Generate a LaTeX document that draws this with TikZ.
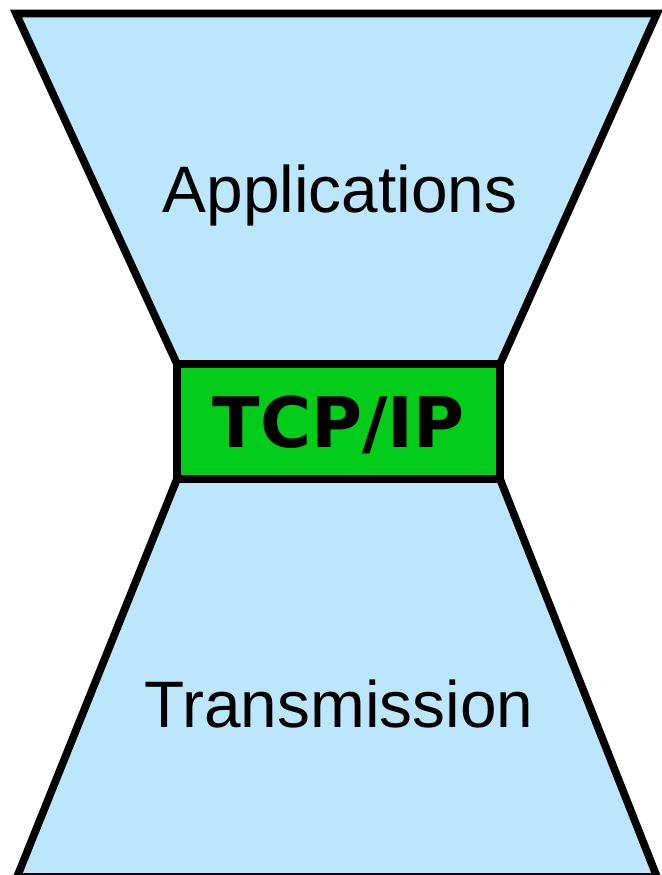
\documentclass[tikz,border=0pt]{standalone}
\usepackage{fontspec}
\setmainfont{Liberation Sans}
\newfontfamily\tcpfont{DejaVu Sans}
\usetikzlibrary{backgrounds}
\definecolor{glassblue}{RGB}{187,230,252}
\definecolor{neckgreen}{RGB}{0,204,25}
\tikzset{half/.style={draw=black,line width=2.2pt,fill=glassblue},
  neck/.style={draw=black,line width=2.2pt,fill=neckgreen,minimum width=3.23cm,minimum height=1.15cm,
    inner sep=0pt,outer sep=0pt,text depth=0pt,font=\tcpfont\bfseries\fontsize{19.8}{19.8}\selectfont},
  caption/.style={anchor=base,inner sep=0pt,font=\fontsize{18.7}{18.7}\selectfont}}

\begin{document}
\begin{tikzpicture}
  \useasboundingbox (0,0) rectangle (6.62,8.75);
  \coordinate (TL) at (0.16,8.615);
  \coordinate (TR) at (6.57,8.615);
  \coordinate (BL) at (0.17,-0.02);
  \coordinate (BR) at (6.57,-0.02);

  \node[neck] (tcp) at (3.385,4.535) {TCP/IP};

  \begin{scope}[on background layer]
    \draw[half] (TL) -- (TR) -- (tcp.north east) -- (tcp.north west) -- cycle;
    \draw[half] (tcp.south west) -- (tcp.south east) -- (BR) -- (BL) -- cycle;
  \end{scope}

  \node[caption] (apps) at (3.40,6.62) {Applications};
  \node[caption] (trans) at (3.39,1.47) {Transmission};
\end{tikzpicture}
\end{document}
